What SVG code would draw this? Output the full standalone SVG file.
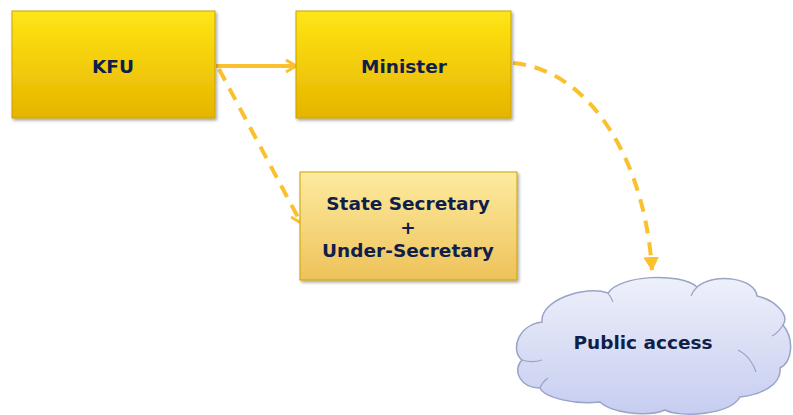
<svg xmlns="http://www.w3.org/2000/svg" width="793" height="415" viewBox="0 0 793 415">
<style>
.lbl{font-family:"DejaVu Sans",Verdana,sans-serif;font-weight:bold;font-size:18.5px;fill:#0f1f4a;text-anchor:middle;dominant-baseline:central}
.box{stroke:#c9a200;stroke-width:1}
.conn{fill:none;stroke:#fbc02d;stroke-width:4}
.dash{stroke-dasharray:13 9}
.inner{fill:none;stroke:#9aa3c8;stroke-width:1.2}
</style>
<defs>
<linearGradient id="gY" x1="0" y1="0" x2="0" y2="1">
<stop offset="0" stop-color="#ffe614"/><stop offset="1" stop-color="#e6b400"/>
</linearGradient>
<linearGradient id="gL" x1="0" y1="0" x2="0" y2="1">
<stop offset="0" stop-color="#fdeba0"/><stop offset="1" stop-color="#eec25a"/>
</linearGradient>
<linearGradient id="gC" x1="0" y1="0" x2="0" y2="1">
<stop offset="0" stop-color="#eef0fa"/><stop offset="1" stop-color="#c6cdf0"/>
</linearGradient>
<filter id="sh" x="-10%" y="-10%" width="120%" height="130%">
<feDropShadow dx="1.5" dy="2" stdDeviation="1.5" flood-color="#000" flood-opacity="0.35"/>
</filter>
<marker id="chev" viewBox="0 0 12 14" refX="11" refY="7" markerWidth="12" markerHeight="14" markerUnits="userSpaceOnUse" orient="auto">
<path d="M1,1 L11,7 L1,13" fill="none" stroke="#fbc02d" stroke-width="3" stroke-linejoin="miter"/>
</marker>
<marker id="tri" viewBox="0 0 14 16" refX="13" refY="8" markerWidth="14" markerHeight="16" markerUnits="userSpaceOnUse" orient="auto">
<path d="M0,0 L14,8 L0,16 Z" fill="#fbc02d"/>
</marker>
</defs>
<g id="connectors">
<line class="conn" x1="216" y1="66" x2="296" y2="66" marker-end="url(#chev)"/>
<line class="conn dash" x1="219" y1="69" x2="301" y2="223" marker-end="url(#chev)"/>
<path class="conn dash" d="M513,63 C590,70 645,160 652,270" marker-end="url(#tri)"/>
</g>
<g id="kfu">
<rect class="box" x="12" y="11" width="203" height="107" fill="url(#gY)" filter="url(#sh)"/>
<text class="lbl" x="113" y="66">KFU</text>
</g>
<g id="minister">
<rect class="box" x="296" y="11" width="215" height="107" fill="url(#gY)" filter="url(#sh)"/>
<text class="lbl" x="404" y="66">Minister</text>
</g>
<g id="secretary">
<rect class="box" x="300" y="172" width="217" height="108" fill="url(#gL)" filter="url(#sh)"/>
<text class="lbl" x="408" y="203">State Secretary</text>
<text class="lbl" x="408" y="227">+</text>
<text class="lbl" x="408" y="250">Under-Secretary</text>
</g>
<g id="public">
<path d="M522,360 C510,350 518,325 542,322 C540,300 585,285 608,293 C620,275 680,272 697,287 C715,272 755,278 757,296 C775,300 790,315 783,325 C795,340 792,362 780,368 C782,385 760,395 740,397 C730,415 680,418 665,410 C645,418 610,412 600,402 C575,405 545,398 540,388 C520,388 512,370 522,360 Z" fill="url(#gC)" stroke="#9aa3c8" stroke-width="1.5"/>
<path class="inner" d="M522,360 C528,362 536,362 542,360"/>
<path class="inner" d="M540,388 C542,383 545,380 548,378"/>
<path class="inner" d="M738,350 C748,355 754,365 756,372"/>
<path class="inner" d="M783,325 C780,330 776,334 772,336"/>
<path class="inner" d="M608,293 C610,296 612,299 613,302"/>
<path class="inner" d="M697,287 C694,290 692,293 691,296"/>
<text class="lbl" x="643" y="342">Public access</text>
</g>
</svg>
